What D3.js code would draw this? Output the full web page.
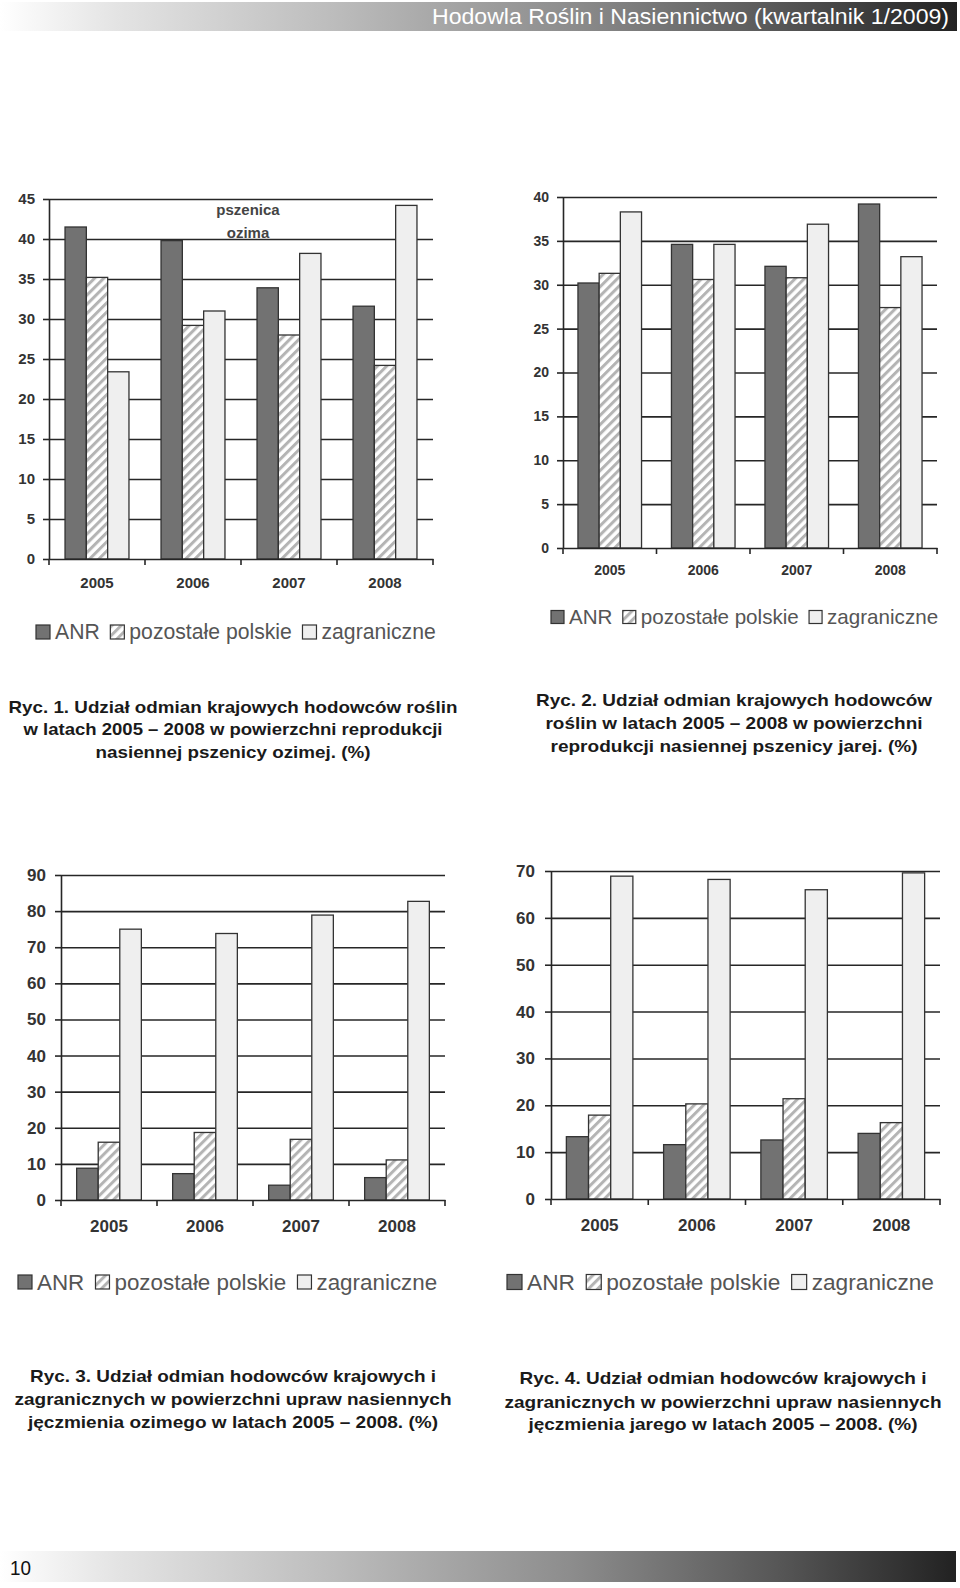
<!DOCTYPE html>
<html>
<head>
<meta charset="utf-8">
<script src="https://cdn.jsdelivr.net/npm/d3@7"></script>
<style>
  html, body { margin: 0; padding: 0; background: #fff; }
  svg { display: block; }
</style>
</head>
<body>
<svg id="page" width="960" height="1588"></svg>
<script>
// ---------------- DATA ----------------
const years = ["2005", "2006", "2007", "2008"];
const seriesNames = ["ANR", "pozostałe polskie", "zagraniczne"];

// Ryc. 1 – pszenica ozima
const ryc1Anr = [41.5, 39.8, 33.9, 31.6];
const ryc1Pol = [35.2, 29.2, 28.0, 24.2];
const ryc1Zag = [23.4, 31.0, 38.2, 44.2];
const ryc1Ticks = [0, 5, 10, 15, 20, 25, 30, 35, 40, 45];

// Ryc. 2 – pszenica jara
const ryc2Anr = [30.2, 34.6, 32.1, 39.2];
const ryc2Pol = [31.3, 30.6, 30.8, 27.4];
const ryc2Zag = [38.3, 34.6, 36.9, 33.2];
const ryc2Ticks = [0, 5, 10, 15, 20, 25, 30, 35, 40];

// Ryc. 3 – jęczmień ozimy
const ryc3Anr = [8.8, 7.3, 4.1, 6.2];
const ryc3Pol = [16.0, 18.7, 16.8, 11.1];
const ryc3Zag = [75.0, 73.8, 78.9, 82.7];
const ryc3Ticks = [0, 10, 20, 30, 40, 50, 60, 70, 80, 90];

// Ryc. 4 – jęczmień jary
const ryc4Anr = [13.3, 11.6, 12.6, 14.0];
const ryc4Pol = [17.9, 20.3, 21.4, 16.3];
const ryc4Zag = [68.9, 68.2, 66.0, 69.6];
const ryc4Ticks = [0, 10, 20, 30, 40, 50, 60, 70];

const ryc1Note = ["pszenica", "ozima"];

const headerText = "Hodowla Roślin i Nasiennictwo (kwartalnik 1/2009)";
const pageNumber = "10";

const caption1 = ["Ryc. 1. Udział odmian krajowych hodowców roślin",
                  "w latach 2005 – 2008 w powierzchni reprodukcji",
                  "nasiennej pszenicy ozimej. (%)"];
const caption2 = ["Ryc. 2. Udział odmian krajowych hodowców",
                  "roślin w latach 2005 – 2008 w powierzchni",
                  "reprodukcji nasiennej pszenicy jarej. (%)"];
const caption3 = ["Ryc. 3. Udział odmian hodowców krajowych i",
                  "zagranicznych w powierzchni upraw nasiennych",
                  "jęczmienia ozimego w latach 2005 – 2008. (%)"];
const caption4 = ["Ryc. 4. Udział odmian hodowców krajowych i",
                  "zagranicznych w powierzchni upraw nasiennych",
                  "jęczmienia jarego w latach 2005 – 2008. (%)"];

// ---------------- DRAWING ----------------
const FONT = "'Liberation Sans', Arial, Helvetica, sans-serif";
const svg = d3.select("#page");
const defs = svg.append("defs");

// page band gradient
const grad = defs.append("linearGradient").attr("id", "band").attr("x1", "0").attr("x2", "1").attr("y1", "0").attr("y2", "0");
[[0, "#ffffff"], [0.12, "#e4e4e4"], [0.35, "#bcbcbc"], [0.6, "#8c8c8c"], [0.82, "#555555"], [1, "#222222"]]
  .forEach(([o, c]) => grad.append("stop").attr("offset", o).attr("stop-color", c));

// hatch pattern
const pat = defs.append("pattern").attr("id", "hatch").attr("patternUnits", "userSpaceOnUse")
  .attr("width", 6.5).attr("height", 6.5).attr("patternTransform", "rotate(45)");
pat.append("rect").attr("width", 6.5).attr("height", 6.5).attr("fill", "#ffffff");
pat.append("rect").attr("width", 3).attr("height", 6.5).attr("fill", "#b4b4b4");

const fills = { "ANR": "#727272", "pozostałe polskie": "url(#hatch)", "zagraniczne": "#efefef" };

// header
svg.append("rect").attr("x", 0).attr("y", 2).attr("width", 957).attr("height", 29).attr("fill", "url(#band)");
svg.append("text").attr("x", 432).attr("y", 24).attr("font-family", FONT).attr("font-size", 22)
  .attr("fill", "#ffffff").attr("textLength", 517).attr("lengthAdjust", "spacingAndGlyphs").text(headerText);

// footer
svg.append("rect").attr("x", 0).attr("y", 1551).attr("width", 956).attr("height", 31).attr("fill", "url(#band)");
svg.append("text").attr("x", 10).attr("y", 1575).attr("font-family", FONT).attr("font-size", 21)
  .attr("fill", "#111").attr("textLength", 21).attr("lengthAdjust", "spacingAndGlyphs").text(pageNumber);

function drawChart(cfg) {
  const g = svg.append("g");
  const y = d3.scaleLinear().domain([0, d3.max(cfg.ticks)]).range([cfg.yBottom, cfg.yTop]);
  const x0 = d3.scaleBand().domain(years).range([cfg.xLeft, cfg.xRight]).padding(0);
  const bw = x0.bandwidth();
  const x1 = d3.scaleBand().domain(seriesNames).range([bw * cfg.pad, bw * (1 - cfg.pad)]).padding(0);

  // gridlines
  const grid = g.append("g").attr("transform", `translate(${cfg.xLeft},0)`)
    .call(d3.axisLeft(y).tickValues(cfg.ticks.filter(t => t > 0)).tickSize(-(cfg.xRight - cfg.xLeft)).tickFormat(""));
  grid.select(".domain").remove();
  grid.selectAll("line").attr("stroke", "#262626").attr("stroke-width", 1.6);

  // bars
  const rows = years.map((yr, i) => ({ year: yr, values: [cfg.anr[i], cfg.pol[i], cfg.zag[i]] }));
  const grp = g.selectAll(".grp").data(rows).join("g").attr("transform", d => `translate(${x0(d.year)},0)`);
  grp.selectAll("rect").data(d => d.values.map((v, k) => ({ key: seriesNames[k], v })))
    .join("rect")
    .attr("x", d => x1(d.key))
    .attr("width", x1.bandwidth())
    .attr("y", d => y(d.v))
    .attr("height", d => y(0) - y(d.v))
    .attr("fill", d => fills[d.key])
    .attr("stroke", "#333")
    .attr("stroke-width", 1.3);

  // y axis
  const ya = g.append("g").attr("transform", `translate(${cfg.xLeft},0)`)
    .call(d3.axisLeft(y).tickValues(cfg.ticks).tickSize(6).tickSizeOuter(0).tickPadding(cfg.tickPad));
  ya.select(".domain").attr("stroke", "#262626").attr("stroke-width", 1.6);
  ya.selectAll("line").attr("stroke", "#262626").attr("stroke-width", 1.6);
  ya.selectAll("text").attr("font-family", FONT).attr("font-weight", "bold")
    .attr("font-size", cfg.fs).attr("fill", "#333");

  // x axis (category labels)
  const xa = g.append("g").attr("transform", `translate(0,${cfg.yBottom})`)
    .call(d3.axisBottom(x0).tickSize(0).tickPadding(cfg.xPad));
  xa.select(".domain").attr("stroke", "#262626").attr("stroke-width", 1.6);
  xa.selectAll("text").attr("font-family", FONT).attr("font-weight", "bold")
    .attr("font-size", cfg.fs).attr("fill", "#333");
  // band boundary ticks
  const edges = years.map(d => x0(d)).concat([cfg.xRight]);
  g.append("g").selectAll("line").data(edges).join("line")
    .attr("x1", d => d).attr("x2", d => d)
    .attr("y1", cfg.yBottom).attr("y2", cfg.yBottom + 6)
    .attr("stroke", "#262626").attr("stroke-width", 1.6);

  // legend
  const lg = g.append("g");
  const lf = cfg.legendFs;
  const sw = Math.round(lf * 0.64);
  let lx = cfg.legendX;
  seriesNames.forEach(name => {
    lg.append("rect").attr("x", lx).attr("y", cfg.legendY - sw / 2).attr("width", sw).attr("height", sw)
      .attr("fill", fills[name]).attr("stroke", "#333").attr("stroke-width", 1.2);
    const t = lg.append("text").attr("x", lx + sw + 5).attr("y", cfg.legendY + lf * 0.35)
      .attr("font-family", FONT).attr("font-size", lf).attr("fill", "#555").text(name);
    lx += sw + 5 + t.node().getComputedTextLength() + lf * 0.5;
  });

  if (cfg.note) {
    cfg.note.forEach((line, i) => {
      g.append("text").attr("x", cfg.noteX).attr("y", cfg.noteY + i * 23).attr("text-anchor", "middle")
        .attr("font-family", FONT).attr("font-weight", "bold").attr("font-size", 15).attr("fill", "#444").text(line);
    });
  }
}

drawChart({ anr: ryc1Anr, pol: ryc1Pol, zag: ryc1Zag, ticks: ryc1Ticks,
  xLeft: 49, xRight: 433, yTop: 199, yBottom: 559, pad: 0.167, fs: 15, tickPad: 8, xPad: 18,
  legendX: 36, legendY: 632, legendFs: 21.2, note: ryc1Note, noteX: 248, noteY: 215 });
drawChart({ anr: ryc2Anr, pol: ryc2Pol, zag: ryc2Zag, ticks: ryc2Ticks,
  xLeft: 563, xRight: 937, yTop: 197, yBottom: 548, pad: 0.16, fs: 14, tickPad: 8, xPad: 17,
  legendX: 551, legendY: 617, legendFs: 20.6 });
drawChart({ anr: ryc3Anr, pol: ryc3Pol, zag: ryc3Zag, ticks: ryc3Ticks,
  xLeft: 61, xRight: 445, yTop: 875, yBottom: 1200, pad: 0.163, fs: 17, tickPad: 9, xPad: 20,
  legendX: 18, legendY: 1282, legendFs: 22.4 });
drawChart({ anr: ryc4Anr, pol: ryc4Pol, zag: ryc4Zag, ticks: ryc4Ticks,
  xLeft: 551, xRight: 940, yTop: 871, yBottom: 1199, pad: 0.158, fs: 17, tickPad: 10, xPad: 20,
  legendX: 507, legendY: 1282, legendFs: 22.7 });

// captions
function drawCaption(lines, cx, ys, widths) {
  lines.forEach((line, i) => {
    svg.append("text").attr("x", cx).attr("y", ys[i]).attr("text-anchor", "middle")
      .attr("font-family", FONT).attr("font-weight", "bold").attr("font-size", 17).attr("fill", "#1a1a1a")
      .attr("textLength", widths[i]).attr("lengthAdjust", "spacingAndGlyphs").text(line);
  });
}
drawCaption(caption1, 233, [713, 735, 758], [449, 419, 275]);
drawCaption(caption2, 734, [706, 729, 752], [396, 377, 367]);
drawCaption(caption3, 233, [1382, 1405, 1428], [406, 437, 410]);
drawCaption(caption4, 723, [1384, 1408, 1430], [407, 437, 389]);
</script>
</body>
</html>
